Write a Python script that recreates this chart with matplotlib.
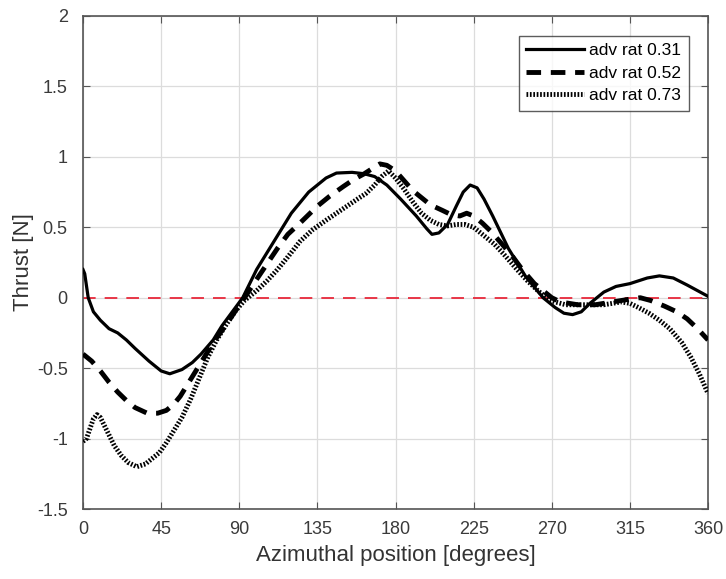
import matplotlib
matplotlib.use("Agg")
import matplotlib.pyplot as plt

plt.rcParams['font.family'] = ['Liberation Sans', 'DejaVu Sans']

# azimuthal positions [deg] and thrust [N]
az_031 = [0, 1, 3, 6, 10, 15, 20, 25, 30, 38, 45, 50, 57, 63, 68, 75, 80, 86, 92, 100, 110, 120, 130, 140,
          146, 155, 162, 168, 175, 183, 192, 198, 201, 205, 210, 215, 219, 223, 227, 231, 236, 245, 255, 265,
          272, 277, 282, 287, 292, 300, 307, 315, 325, 332, 340, 348, 354, 360]
thr_031 = [0.2, 0.17, 0.0, -0.1, -0.16, -0.22, -0.25, -0.3, -0.36, -0.45, -0.52, -0.54, -0.51, -0.46, -0.4,
           -0.3, -0.2, -0.1, 0.0, 0.2, 0.4, 0.6, 0.75, 0.85, 0.885, 0.89, 0.88, 0.86, 0.8, 0.7, 0.58, 0.49,
           0.45, 0.46, 0.52, 0.65, 0.75, 0.8, 0.78, 0.7, 0.58, 0.35, 0.15, 0.0, -0.07, -0.11, -0.12, -0.1,
           -0.04, 0.04, 0.08, 0.1, 0.14, 0.155, 0.14, 0.09, 0.05, 0.01]

az_052 = [0, 5, 10, 15, 20, 25, 30, 37, 43, 48, 52, 56, 60, 65, 70, 76, 82, 88, 93, 100, 106, 112, 118, 125,
          135, 142, 150, 156, 162, 167, 171, 175, 180, 185, 190, 200, 207, 212, 217, 221, 225, 230, 235, 240,
          247, 253, 260, 265, 270, 275, 285, 295, 305, 315, 321, 327, 335, 342, 348, 354, 360]
thr_052 = [-0.4, -0.45, -0.52, -0.6, -0.67, -0.73, -0.78, -0.82, -0.82, -0.8, -0.76, -0.7, -0.62, -0.52,
           -0.42, -0.3, -0.2, -0.09, 0.0, 0.13, 0.24, 0.35, 0.45, 0.53, 0.65, 0.72, 0.79, 0.84, 0.88, 0.92,
           0.95, 0.94, 0.9, 0.83, 0.76, 0.66, 0.62, 0.59, 0.58, 0.6, 0.58, 0.53, 0.47, 0.4, 0.3, 0.2, 0.1,
           0.05, 0.0, -0.03, -0.05, -0.05, -0.03, -0.01, 0.0, -0.02, -0.06, -0.1, -0.15, -0.22, -0.3]

az_073 = [0, 2, 4, 6, 8, 10, 14, 18, 22, 26, 31, 36, 40, 44, 48, 52, 57, 62, 67, 72, 77, 82, 88, 93, 100,
          106, 112, 118, 125, 132, 140, 146, 152, 158, 163, 168, 172, 176, 180, 185, 190, 195, 200, 205, 210,
          215, 220, 225, 230, 237, 243, 250, 256, 262, 268, 272, 278, 285, 293, 300, 305, 310, 315, 320, 326,
          332, 338, 345, 350, 355, 360]
thr_073 = [-1.02, -1.0, -0.93, -0.86, -0.83, -0.85, -0.95, -1.05, -1.12, -1.17, -1.2, -1.18, -1.14, -1.1,
           -1.03, -0.95, -0.85, -0.72, -0.57, -0.42, -0.3, -0.2, -0.09, -0.02, 0.05, 0.12, 0.2, 0.29, 0.4,
           0.48, 0.55, 0.6, 0.65, 0.7, 0.74, 0.8, 0.86, 0.9, 0.85, 0.77, 0.68, 0.6, 0.55, 0.52, 0.51, 0.52,
           0.52, 0.5, 0.45, 0.38, 0.3, 0.2, 0.12, 0.05, -0.01, -0.03, -0.05, -0.05, -0.05, -0.05, -0.04, -0.03,
           -0.04, -0.07, -0.11, -0.16, -0.22, -0.32, -0.42, -0.54, -0.68]

labels = ['adv rat 0.31', 'adv rat 0.52', 'adv rat 0.73']
xticks = [0, 45, 90, 135, 180, 225, 270, 315, 360]
yticks = [-1.5, -1, -0.5, 0, 0.5, 1, 1.5, 2]
yticklabels = ['-1.5', '-1', '-0.5', '0', '0.5', '1', '1.5', '2']

fig = plt.figure(figsize=(7.26, 5.79), dpi=100)
ax = fig.add_axes([83 / 726, 1 - 509 / 579, 625 / 726, 493 / 579])

ax.plot([0, 360], [0, 0], color='#e8283a', lw=1.3, dashes=(7, 5), zorder=1)
ax.plot(az_031, thr_031, color='black', lw=2.3, label=labels[0], zorder=3)
ax.plot(az_052, thr_052, color='black', lw=3.5, dashes=(3, 2), label=labels[1], zorder=3)
ax.plot(az_073, thr_073, color='black', lw=3.5, dashes=(0.35, 0.35), label=labels[2], zorder=3)

ax.set_xlim(0, 360)
ax.set_ylim(-1.5, 2)
ax.set_xticks(xticks)
ax.set_yticks(yticks)
ax.set_yticklabels(yticklabels)
ax.grid(True, color='#dcdcdc', lw=0.9)
ax.set_axisbelow(True)
for s in ax.spines.values():
    s.set_color('#555555')
    s.set_linewidth(1.2)
ax.tick_params(colors='#555555', labelcolor='#3a3a3a', labelsize=13, direction='in', length=5,
               top=True, right=True)
ax.tick_params(axis='x', pad=9)
ax.tick_params(axis='y', pad=11)

ax.set_xlabel('Azimuthal position [degrees]', fontsize=16, color='#333333', labelpad=5)
ax.set_ylabel('Thrust [N]', fontsize=16, color='#333333', labelpad=2)

leg = ax.legend(loc='upper right', bbox_to_anchor=(0.983, 0.978), fontsize=12.5, frameon=True,
                fancybox=False, edgecolor='#333333', handlelength=3.3, handletextpad=0.3,
                borderpad=0.45, labelspacing=0.42)
leg.get_frame().set_linewidth(1.0)

fig.savefig('out.png', dpi=100)
